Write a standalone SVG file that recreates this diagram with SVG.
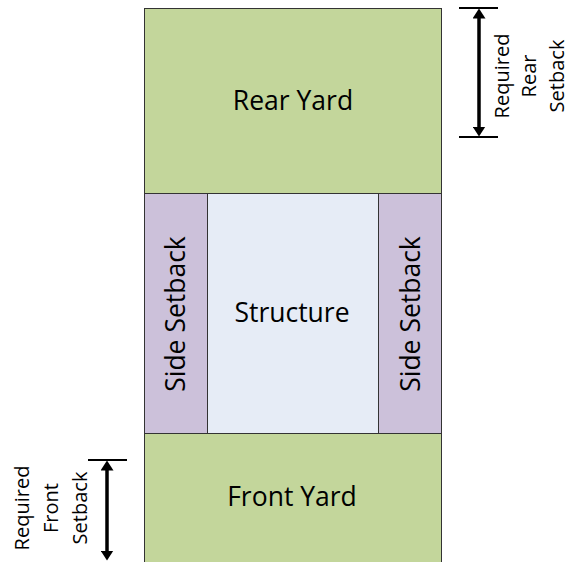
<svg xmlns="http://www.w3.org/2000/svg" width="570" height="562" viewBox="0 0 570 562">
<style>
.zone{stroke:#333;stroke-width:1}
.green{fill:#C3D69B}
.purple{fill:#CCC1DA}
.blue{fill:#E6ECF6}
.big{font-family:"Open Sans","Noto Sans",sans-serif;font-size:26.5px;fill:#000;text-anchor:middle}
.small{font-family:"Open Sans","Noto Sans",sans-serif;font-size:20px;fill:#000;text-anchor:middle}
.tick{stroke:#000;stroke-width:2}
.dim{stroke:#000;stroke-width:3.5;fill:none;marker-start:url(#ah);marker-end:url(#ah)}
</style>
<defs>
<marker id="ah" markerUnits="userSpaceOnUse" markerWidth="10" markerHeight="13" viewBox="0 0 10 13" refX="0.5" refY="6.5" orient="auto-start-reverse">
<path d="M0,0 L10,6.5 L0,13 z" fill="#000"/>
</marker>
</defs>
<rect width="570" height="562" fill="#fff"/>
<g id="rear-yard">
<rect class="zone green" x="144.5" y="8.5" width="297" height="185"/>
<text class="big" x="293" y="110">Rear Yard</text>
</g>
<g id="side-setback-left">
<rect class="zone purple" x="144.5" y="193.5" width="63" height="240"/>
<text class="big" transform="translate(185,314) rotate(-90)">Side Setback</text>
</g>
<g id="structure">
<rect class="zone blue" x="207.5" y="193.5" width="171" height="240"/>
<text class="big" x="292" y="322">Structure</text>
</g>
<g id="side-setback-right">
<rect class="zone purple" x="378.5" y="193.5" width="63" height="240"/>
<text class="big" transform="translate(420,314) rotate(-90)">Side Setback</text>
</g>
<g id="front-yard">
<rect class="zone green" x="144.5" y="433.5" width="297" height="140"/>
<text class="big" x="292" y="506">Front Yard</text>
</g>
<g id="connectors">
<line class="tick" x1="459" y1="8" x2="498" y2="8"/>
<line class="tick" x1="459" y1="137" x2="498" y2="137"/>
<line class="dim" x1="479" y1="18" x2="479" y2="127"/>
<line class="tick" x1="88" y1="460" x2="127" y2="460"/>
<line class="dim" x1="107" y1="470" x2="107" y2="551"/>
</g>
<g id="rear-setback-label">
<text class="small" transform="translate(536,76) rotate(-90)"><tspan x="0" y="-27">Required</tspan><tspan x="0" y="0">Rear</tspan><tspan x="0" y="28">Setback</tspan></text>
</g>
<g id="front-setback-label">
<text class="small" transform="translate(58,508) rotate(-90)"><tspan x="0" y="-29">Required</tspan><tspan x="0" y="0">Front</tspan><tspan x="0" y="29">Setback</tspan></text>
</g>
</svg>
